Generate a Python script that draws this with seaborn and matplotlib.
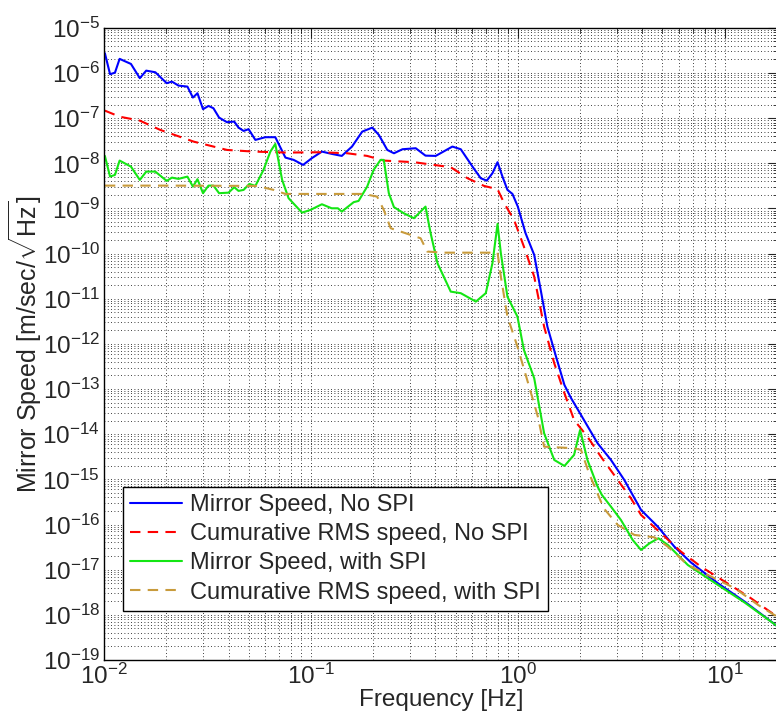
import pandas as pd
import matplotlib
matplotlib.use("Agg")
import matplotlib.pyplot as plt
import matplotlib.ticker as mticker
import seaborn as sns

# ---------------- DATA ----------------
# Mirror speed, no SPI
f_nospi = [0.0101, 0.0107, 0.0113, 0.0119, 0.0135, 0.0149, 0.0160, 0.0177, 0.0201, 0.0213,
           0.0229, 0.0253, 0.0269, 0.0283, 0.0301, 0.0320, 0.0338, 0.0360, 0.0393, 0.0426,
           0.0447, 0.0473, 0.0500, 0.0539, 0.0602, 0.0673, 0.0753, 0.0826, 0.0917, 0.101,
           0.113, 0.126, 0.141, 0.158, 0.177, 0.198, 0.213, 0.234, 0.252, 0.277,
           0.321, 0.358, 0.401, 0.483, 0.530, 0.604, 0.662, 0.708, 0.754, 0.798,
           0.843, 0.891, 0.942, 1.00, 1.09, 1.20, 1.29, 1.39, 1.53, 1.68,
           1.81, 2.02, 2.18, 2.43, 2.82, 3.27, 3.94, 4.75, 5.71, 6.88,
           9.27, 12.5, 17.9]
v_nospi = [2.75e-6, 9.4e-7, 1.02e-6, 2.06e-6, 1.59e-6, 7.7e-7, 1.13e-6, 1.04e-6, 5.96e-7, 6.46e-7,
           5.27e-7, 5.01e-7, 2.86e-7, 3.57e-7, 1.58e-7, 1.87e-7, 1.66e-7, 1.03e-7, 8.15e-8, 8.4e-8,
           6.18e-8, 5.22e-8, 5.7e-8, 3.3e-8, 3.79e-8, 3.79e-8, 1.34e-8, 1.19e-8, 9.23e-9, 1.30e-8,
           1.82e-8, 1.62e-8, 1.46e-8, 2.35e-8, 5.04e-8, 6.18e-8, 4.26e-8, 1.98e-8, 1.67e-8, 2.05e-8,
           2.16e-8, 1.48e-8, 1.46e-8, 2.35e-8, 2.05e-8, 8.45e-9, 4.67e-9, 4.14e-9, 6.04e-9, 1.06e-8,
           5.08e-9, 2.58e-9, 2.10e-9, 1.10e-9, 2.83e-10, 9.36e-11, 1.57e-11, 2.41e-12, 5.23e-13, 1.23e-13,
           6.26e-14, 2.67e-14, 1.47e-14, 6.3e-15, 2.69e-15, 9.7e-16, 2.10e-16, 8.95e-17, 3.23e-17, 1.43e-17,
           4.99e-18, 1.95e-18, 5.65e-19]

# Cumulative RMS speed, no SPI
f_rms_nospi = [0.0101, 0.0119, 0.0149, 0.0187, 0.0271, 0.0393, 0.0528, 0.0767, 0.111, 0.150,
               0.187, 0.225, 0.315, 0.474, 0.571, 0.687, 0.798, 0.859, 0.959, 1.07,
               1.20, 1.34, 1.50, 1.68, 1.87, 2.17, 2.52, 3.04, 3.52, 3.94,
               4.92, 6.15, 7.69, 10.3, 13.4, 17.9]
v_rms_nospi = [1.47e-7, 1.08e-7, 8.83e-8, 5.5e-8, 3.03e-8, 1.98e-8, 1.82e-8, 1.73e-8, 1.76e-8, 1.67e-8,
               1.46e-8, 1.15e-8, 1.06e-8, 8.2e-9, 4.68e-9, 3.16e-9, 2.67e-9, 1.31e-9, 5.58e-10, 1.43e-10,
               3.1e-11, 2.41e-12, 3.73e-13, 8.07e-14, 2.07e-14, 8.83e-15, 3.18e-15, 9.7e-16, 3.81e-16, 1.63e-16,
               6.4e-17, 2.5e-17, 1.16e-17, 4.99e-18, 2.32e-18, 9.1e-19]

# Mirror speed, with SPI
f_spi = [0.0101, 0.0107, 0.0113, 0.0119, 0.0135, 0.0149, 0.0160, 0.0177, 0.0201, 0.0213,
         0.0229, 0.0253, 0.0269, 0.0283, 0.0301, 0.0320, 0.0338, 0.0360, 0.0400, 0.0426,
         0.0447, 0.0473, 0.0504, 0.0539, 0.0590, 0.0637, 0.0673, 0.0726, 0.0780, 0.0906,
         0.0995, 0.113, 0.126, 0.135, 0.141, 0.161, 0.170, 0.187, 0.201, 0.217,
         0.225, 0.238, 0.252, 0.281, 0.315, 0.358, 0.379, 0.409, 0.474, 0.530,
         0.627, 0.700, 0.754, 0.798, 0.828, 0.891, 0.996, 1.07, 1.20, 1.34,
         1.50, 1.68, 1.87, 2.00, 2.17, 2.43, 2.55, 2.82, 3.15, 3.59,
         3.94, 4.33, 4.78, 5.31, 6.63, 9.27, 12.5, 17.9]
v_spi = [1.46e-8, 5.08e-9, 5.54e-9, 1.15e-8, 8.45e-9, 4.29e-9, 6.56e-9, 6.56e-9, 4.08e-9, 4.83e-9,
         4.52e-9, 5.08e-9, 3.05e-9, 4.45e-9, 2.18e-9, 3.21e-9, 3.21e-9, 2.18e-9, 2.24e-9, 2.96e-9,
         2.45e-9, 2.58e-9, 3.5e-9, 3.16e-9, 7.15e-9, 1.82e-8, 2.69e-8, 4.29e-9, 1.69e-9, 8.09e-10,
         9.29e-10, 1.24e-9, 1.01e-9, 1.01e-9, 8.53e-10, 1.38e-9, 1.47e-9, 3.05e-9, 7.15e-9, 1.19e-8,
         1.19e-8, 2.18e-9, 1.07e-9, 7.85e-10, 6.08e-10, 1.10e-9, 2.83e-10, 6.12e-11, 1.44e-11, 1.33e-11,
         8.65e-12, 1.33e-11, 6.12e-11, 4.55e-10, 1.02e-10, 1.11e-11, 4.02e-12, 7.36e-13, 1.74e-13, 1.05e-14,
         2.69e-15, 1.98e-15, 3.48e-15, 1.24e-14, 2.69e-15, 6.89e-16, 4.5e-16, 2.48e-16, 1.26e-16, 4.55e-17,
         2.73e-17, 3.84e-17, 4.96e-17, 3.52e-17, 1.27e-17, 4.58e-18, 1.86e-18, 5.65e-19]

# Cumulative RMS speed, with SPI
f_rms_spi = [0.0101, 0.0201, 0.0548, 0.0661, 0.0753, 0.180, 0.209, 0.225, 0.243, 0.303,
             0.339, 0.365, 0.440, 0.798, 0.828, 0.891, 0.996, 1.11, 1.25, 1.34,
             1.87, 2.02, 2.21, 2.60, 3.04, 3.66, 4.57, 5.31, 6.63, 8.61,
             11.2, 14.5, 17.9]
v_rms_spi = [3.21e-9, 3.21e-9, 3.16e-9, 2.58e-9, 2.10e-9, 2.10e-9, 1.83e-9, 9.29e-10, 3.65e-10, 2.6e-10,
             2.19e-10, 1.11e-10, 1.05e-10, 1.05e-10, 3.09e-11, 4.02e-12, 8.7e-13, 1.59e-13, 2.45e-14, 5.3e-15,
             4.89e-15, 4.48e-15, 1.36e-15, 2.3e-16, 9.77e-17, 5.87e-17, 5.21e-17, 3.23e-17, 1.27e-17, 7.0e-18,
             3.87e-18, 1.65e-18, 9.1e-19]

labels = ["Mirror Speed, No SPI", "Cumurative RMS speed, No SPI",
          "Mirror Speed, with SPI", "Cumurative RMS speed, with SPI"]

# ---------------- STYLE ----------------
sns.set_style("white")
plt.rcParams["font.family"] = ["Liberation Sans", "DejaVu Sans"]
plt.rcParams["mathtext.default"] = "regular"
plt.rcParams["mathtext.fontset"] = "custom"
plt.rcParams["mathtext.rm"] = "Liberation Sans"
plt.rcParams["mathtext.it"] = "Liberation Sans:italic"
plt.rcParams["axes.unicode_minus"] = True

fig = plt.figure(figsize=(7.76, 7.15), dpi=100)
ax = fig.add_axes([0.134, 0.077, 0.868, 0.884])

# ---------------- LINES ----------------
sns.lineplot(x=f_nospi, y=v_nospi, ax=ax, color="#0000ff", lw=1.5,
             label=labels[0], sort=False, estimator=None)
sns.lineplot(x=f_rms_nospi, y=v_rms_nospi, ax=ax, color="#ff0000", lw=1.5,
             label=labels[1], sort=False, estimator=None)
sns.lineplot(x=f_spi, y=v_spi, ax=ax, color="#14e614", lw=1.5,
             label=labels[2], sort=False, estimator=None)
sns.lineplot(x=f_rms_spi, y=v_rms_spi, ax=ax, color="#c89b3c", lw=1.5,
             label=labels[3], sort=False, estimator=None)
ax.lines[1].set_dashes((5, 3.5))
ax.lines[3].set_dashes((5, 3.5))

# ---------------- AXES ----------------
ax.set_xscale("log")
ax.set_yscale("log")
ax.set_xlim(0.01, 18)
ax.set_ylim(1e-19, 1e-5)

ax.yaxis.set_major_locator(mticker.LogLocator(base=10, numticks=30))
ax.yaxis.set_minor_locator(mticker.LogLocator(base=10, subs=range(2, 10), numticks=200))
ax.xaxis.set_major_locator(mticker.LogLocator(base=10, numticks=30))
ax.xaxis.set_minor_locator(mticker.LogLocator(base=10, subs=range(2, 10), numticks=200))
ax.yaxis.set_minor_formatter(mticker.NullFormatter())
ax.xaxis.set_minor_formatter(mticker.NullFormatter())

ax.grid(True, which="both", color="k", linestyle=(0, (1, 3)), linewidth=0.6)
ax.tick_params(which="both", direction="in", top=True, right=True, labelsize=17.5)
ax.tick_params(which="major", length=7, width=0.8)
ax.tick_params(which="minor", length=3.5, width=0.6)
ax.tick_params(axis="y", pad=3)
ax.tick_params(axis="x", pad=3)
for s in ax.spines.values():
    s.set_linewidth(1.0)
    s.set_color("k")

ax.set_xlabel("Frequency [Hz]", fontsize=17.5, labelpad=0)
ax.set_ylabel(r"Mirror Speed [m/sec/$\sqrt{Hz}$]", fontsize=18, labelpad=-1)

leg = ax.legend(loc="lower left", bbox_to_anchor=(0.028, 0.078), borderaxespad=0,
                fontsize=17, frameon=True, fancybox=False, framealpha=1,
                edgecolor="k", handlelength=2.2, handletextpad=0.35,
                labelspacing=0.3, borderpad=0.3)
leg.get_frame().set_linewidth(1.0)

fig.savefig("out.png", dpi=100)
